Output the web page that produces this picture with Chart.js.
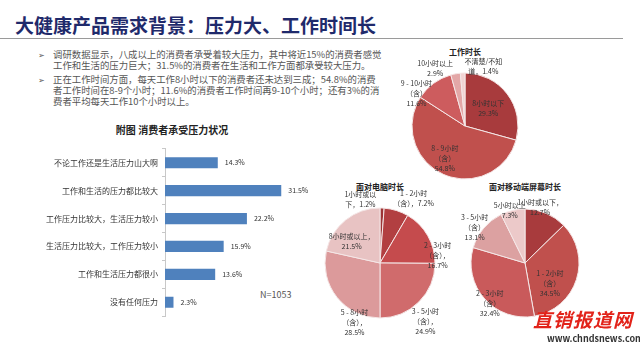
<!DOCTYPE html>
<html>
<head>
<meta charset="utf-8">
<script src="https://cdn.jsdelivr.net/npm/chart.js@4.4.1/dist/chart.umd.min.js"></script>
<style>
  body { margin: 0; width: 640px; height: 347px; background: #fff; position: relative; overflow: hidden;
         font-family: "Noto Sans CJK SC", "Noto Sans", sans-serif; }
  .abs { position: absolute; }
  #title { left: 15px; top: 11px; font-size: 19px; font-weight: bold; color: #1f2a6b; white-space: nowrap; }
  #rule { left: 0; top: 38px; width: 623px; height: 0; border-top: 1.5px solid #9a9a9a; }
  .bl { font-size: 9.4px; color: #555; white-space: nowrap; line-height: 11px; }
  .mk { font-size: 8px; color: #555; }
  .ct { font-size: 8px; font-weight: bold; color: #222; white-space: nowrap; transform: translateX(-50%); }
  #barTitle { left: 172px; top: 122px; font-size: 10px; font-weight: bold; color: #222; transform: translateX(-50%); white-space: nowrap; }
  #nnote { left: 260px; top: 288px; font-size: 9px; color: #555; }
  #wm { left: 533px; top: 305px; font-size: 19px; font-weight: bold; font-style: italic; color: #e2231a; letter-spacing: 1px; white-space: nowrap; }
  #url { left: 547px; top: 332px; font-size: 9px; font-weight: bold; color: #333; white-space: nowrap; }
  canvas { position: absolute; }
</style>
</head>
<body>
<div id="title" class="abs">大健康产品需求背景：压力大、工作时间长</div>
<div id="rule" class="abs"></div>

<div class="abs mk" style="left:38px;top:49px;">➢</div>
<div class="abs bl" style="left:53px;top:49px;">调研数据显示，八成以上的消费者承受着较大压力，其中将近15%的消费者感觉<br>工作和生活的压力巨大；31.5%的消费者在生活和工作方面都承受较大压力。</div>
<div class="abs mk" style="left:38px;top:74px;">➢</div>
<div class="abs bl" style="left:53px;top:74px;">正在工作时间方面，每天工作8小时以下的消费者还未达到三成；54.8%的消费<br>者工作时间在8-9个小时；11.6%的消费者工作时间再9-10个小时；还有3%的消<br>费者平均每天工作10个小时以上。</div>

<div id="barTitle" class="abs">附图 消费者承受压力状况</div>
<div id="nnote" class="abs">N=1053</div>

<div class="abs ct" style="left:465px;top:46px;">工作时长</div>
<div class="abs ct" style="left:380px;top:181px;">面对电脑时长</div>
<div class="abs ct" style="left:525px;top:181px;">面对移动端屏幕时长</div>

<canvas id="barChart" width="300" height="185" style="left:20px;top:140px;"></canvas>
<canvas id="workPie" width="240" height="180" style="left:345px;top:36px;"></canvas>
<canvas id="pcPie" width="180" height="150" style="left:290px;top:188px;"></canvas>
<canvas id="mobilePie" width="160" height="150" style="left:445px;top:188px;"></canvas>

<div id="wm" class="abs">直销报道网</div>
<div id="url" class="abs">www.chndsnews.com</div>

<script>
// Bar chart: pressure status
const pressureCats = ["不论工作还是生活压力山大啊", "工作和生活的压力都比较大", "工作压力比较大，生活压力较小",
  "生活压力比较大，工作压力较小", "工作和生活压力都很小", "没有任何压力"];
const pressureVals = [14.3, 31.5, 22.2, 15.9, 13.6, 2.3];

// Pie: working hours
const workCats = ["8小时以下", "8 - 9小时|（含）", "9 - 10小时|（含）", "10小时以上", "不清楚/不知|道，"];
const workVals = [29.3, 54.8, 11.6, 2.9, 1.4];

// Pie: computer screen time
const pcCats = ["1小时或以|下，", "1 - 2小时|（含），", "2 - 3小时|（含），", "3 - 5小时|（含），", "5 - 8小时|（含），", "8小时或以上，"];
const pcVals = [1.2, 7.2, 16.7, 24.9, 28.5, 21.5];

// Pie: mobile screen time
const mobileCats = ["1小时或以下，", "1 - 2小时|（含）", "2 - 3小时|（含）", "3 - 5小时|（含）", "5小时以上"];
const mobileVals = [12.7, 34.5, 32.4, 13.1, 7.3];

const FONT = '"Noto Sans CJK SC", "Noto Sans", sans-serif';

// value labels at bar ends
const barValues = {
  id: "barValues",
  afterDatasetsDraw(chart) {
    const ctx = chart.ctx;
    ctx.save();
    ctx.font = "7px " + FONT;
    ctx.fillStyle = "#333";
    ctx.textBaseline = "middle";
    chart.getDatasetMeta(0).data.forEach((bar, i) => {
      ctx.fillText(chart.data.datasets[0].data[i].toFixed(1) + "%", bar.x + 7, bar.y);
    });
    ctx.restore();
  }
};

// slice labels: [radius factor, dx, dy, value on same line as last name line]
const pieLabels = {
  id: "pieLabels",
  afterDatasetsDraw(chart, args, opts) {
    const ctx = chart.ctx;
    const meta = chart.getDatasetMeta(0);
    const vals = chart.data.datasets[0].data;
    ctx.save();
    ctx.font = "7px " + FONT;
    ctx.fillStyle = "#333";
    ctx.textAlign = "center";
    ctx.textBaseline = "middle";
    meta.data.forEach((arc, i) => {
      const p = arc.getProps(["x", "y", "startAngle", "endAngle", "outerRadius"], true);
      const mid = (p.startAngle + p.endAngle) / 2;
      const [f, dx, dy, join] = opts.place[i];
      const x = p.x + Math.cos(mid) * p.outerRadius * f + dx;
      const y = p.y + Math.sin(mid) * p.outerRadius * f + dy;
      const lines = chart.data.labels[i].split("|");
      const v = vals[i].toFixed(1) + "%";
      if (join) lines[lines.length - 1] += v; else lines.push(v);
      lines.forEach((t, k) => ctx.fillText(t, x, y + (k - (lines.length - 1) / 2) * 10));
    });
    ctx.restore();
  }
};

new Chart(document.getElementById("barChart"), {
  type: "bar",
  data: {
    labels: pressureCats,
    datasets: [{ data: pressureVals, backgroundColor: "#4f81bd", barPercentage: 0.4, categoryPercentage: 1 }]
  },
  options: {
    indexAxis: "y",
    responsive: false,
    animation: false,
    devicePixelRatio: 1,
    layout: { padding: { top: 5, bottom: 6, right: 0 } },
    plugins: { legend: { display: false }, tooltip: { enabled: false } },
    scales: {
      x: { display: false, min: 0, max: 42 },
      y: {
        afterFit(scale) { scale.width = 145; },
        border: { color: "#c8c8c8" },
        grid: { drawOnChartArea: false, color: "#c8c8c8", tickLength: 3 },
        ticks: { color: "#333", font: { size: 8, family: FONT }, padding: 4 }
      }
    }
  },
  plugins: [barValues]
});

function pie(id, cats, vals, colors, radius, place) {
  return new Chart(document.getElementById(id), {
    type: "pie",
    data: {
      labels: cats,
      datasets: [{ data: vals, backgroundColor: colors, borderColor: "#f4e6e6", borderWidth: 1, radius: radius }]
    },
    options: {
      responsive: false,
      animation: false,
      devicePixelRatio: 1,
      plugins: { legend: { display: false }, tooltip: { enabled: false }, pieLabels: { place: place } }
    },
    plugins: [pieLabels]
  });
}

pie("workPie", workCats, workVals,
  ["#a83b3d", "#c0504d", "#cd5c5e", "#e3a7a7", "#f1d3d3"], 53,
  [[0.55, 0, 0, false], [0.7, -5, -2, false], [1.1, -14, 14, false], [1.15, -19, 2, false], [1.15, 21, 1, true]]);

pie("pcPie", pcCats, pcVals,
  ["#9c3335", "#b23f41", "#c54b4d", "#d06b6c", "#dc9a9b", "#e8c3c3"], 55,
  [[1.15, -22, 0, true], [1.2, 14, -2, true], [1.1, 5, 22, false], [1.35, -7, 6, false], [1.2, 26, 18, false], [0.65, -6, 6, false]]);

pie("mobilePie", mobileCats, mobileVals,
  ["#a83b3d", "#c0504d", "#c95a5b", "#dca1a1", "#ecc9c9"], 54,
  [[1.1, -8, -1, false], [0.6, -6, 10, false], [0.95, 3, 6, false], [1.1, -5, 3, false], [1.0, -3, 0, false]]);
</script>
</body>
</html>
